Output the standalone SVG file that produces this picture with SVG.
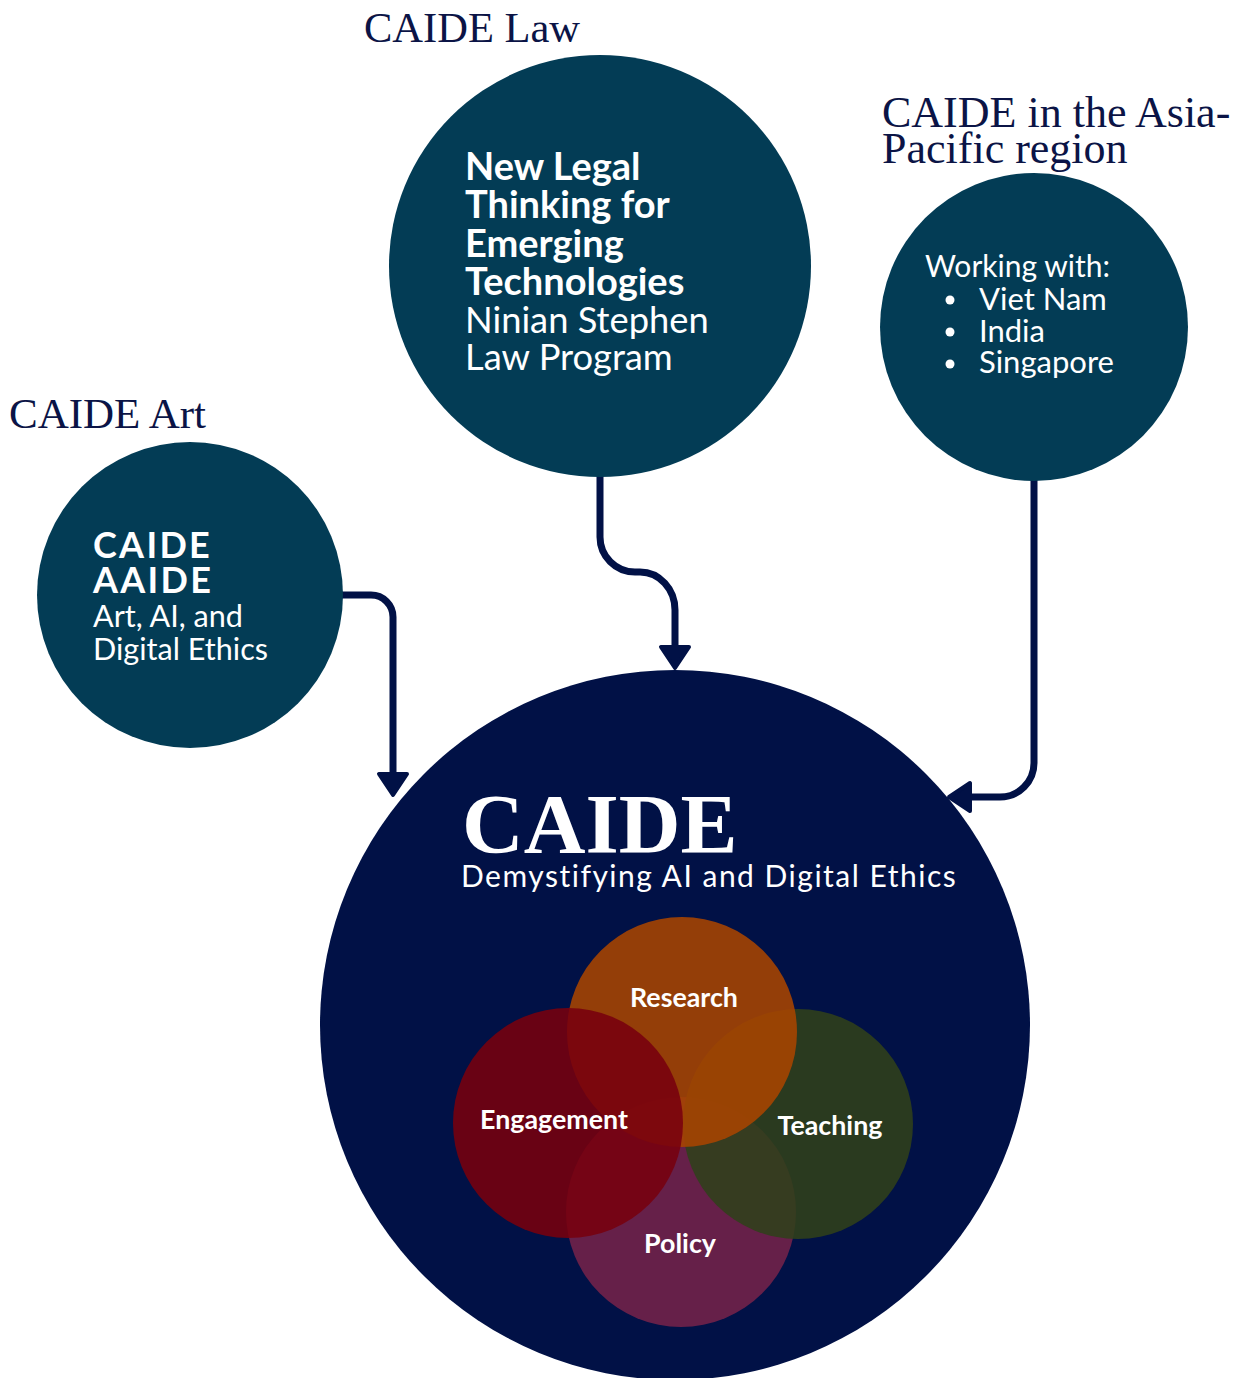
<svg xmlns="http://www.w3.org/2000/svg" width="1242" height="1378" viewBox="0 0 1242 1378">
<defs>
<style>
.title{font-family:"Liberation Serif","DejaVu Serif",serif;fill:#0b1446;}
.node{fill:#033c55;}
.sans{font-family:Lato,"Noto Sans","Liberation Sans",sans-serif;fill:#ffffff;}
.b{font-weight:700;}
.conn{fill:none;stroke:#011146;stroke-width:7;}
.vl{font-family:Lato,"Noto Sans","Liberation Sans",sans-serif;font-weight:700;font-size:26.8px;fill:#ffffff;text-anchor:middle;}
.v{opacity:0.88;}
</style>
<marker id="ah" viewBox="0 0 30 36" refX="3" refY="18" markerWidth="30" markerHeight="36" markerUnits="userSpaceOnUse" orient="auto">
<path d="M3 4 L24 18 L3 32 Z" fill="#011146" stroke="#011146" stroke-width="4" stroke-linejoin="round"/>
</marker>
</defs>
<rect width="1242" height="1378" fill="#ffffff"/>

<g id="connectors">
<path class="conn" d="M340 595 H371 A22 22 0 0 1 393 617 V774" marker-end="url(#ah)"/>
<path class="conn" d="M600 470 V537 A35 35 0 0 0 635 572 H640 A35 38 0 0 1 675 610 V647" marker-end="url(#ah)"/>
<path class="conn" d="M1034 478 V763 A34 34 0 0 1 1000 797 H970" marker-end="url(#ah)"/>
</g>

<g id="node-law">
<text class="title" font-size="42.5" x="364" y="42">CAIDE Law</text>
<circle class="node" cx="600" cy="266" r="211"/>
<text class="sans b" font-size="38" x="465" y="180">New Legal</text>
<text class="sans b" font-size="38" x="465" y="218">Thinking for</text>
<text class="sans b" font-size="38" x="465" y="257">Emerging</text>
<text class="sans b" font-size="38" x="465" y="295">Technologies</text>
<text class="sans" font-size="36.3" x="465" y="333">Ninian Stephen</text>
<text class="sans" font-size="36.3" x="465" y="370">Law Program</text>
</g>

<g id="node-asia">
<text class="title" font-size="44" x="882" y="127">CAIDE in the Asia-</text>
<text class="title" font-size="44" x="882" y="163">Pacific region</text>
<circle class="node" cx="1034" cy="327" r="154"/>
<text class="sans" font-size="30" x="925" y="277">Working with:</text>
<circle cx="950" cy="300" r="4.5" fill="#ffffff"/>
<circle cx="950" cy="332" r="4.5" fill="#ffffff"/>
<circle cx="950" cy="364" r="4.5" fill="#ffffff"/>
<text class="sans" font-size="31" x="979" y="310">Viet Nam</text>
<text class="sans" font-size="31" x="979" y="342">India</text>
<text class="sans" font-size="31" x="979" y="373">Singapore</text>
</g>

<g id="node-art">
<text class="title" font-size="43" x="9" y="428">CAIDE Art</text>
<circle class="node" cx="190" cy="595" r="153"/>
<text class="sans b" font-size="36" letter-spacing="2.3" x="93" y="558">CAIDE</text>
<text class="sans b" font-size="36" letter-spacing="2.3" x="93" y="593">AAIDE</text>
<text class="sans" font-size="30.6" x="93" y="627">Art, AI, and</text>
<text class="sans" font-size="30.6" x="93" y="660">Digital Ethics</text>
</g>

<g id="node-caide">
<circle cx="675" cy="1025" r="355" fill="#011146"/>
<text x="462" y="853" font-family="'Liberation Serif','DejaVu Serif',serif" font-weight="700" font-size="85.5" fill="#ffffff">CAIDE</text>
<text class="sans" font-size="30" letter-spacing="1.5" x="461" y="887">Demystifying AI and Digital Ethics</text>
</g>

<g id="venn">
<circle class="v" cx="681" cy="1212" r="115" fill="#74224a"/>
<circle class="v" cx="798" cy="1124" r="115" fill="#30401a"/>
<circle class="v" cx="682" cy="1032" r="115" fill="#a94400"/>
<circle class="v" cx="568" cy="1123" r="115" fill="#78000e"/>
<text class="vl" x="684" y="1007">Research</text>
<text class="vl" x="554" y="1129">Engagement</text>
<text class="vl" x="830" y="1135">Teaching</text>
<text class="vl" x="680" y="1253">Policy</text>
</g>
</svg>
